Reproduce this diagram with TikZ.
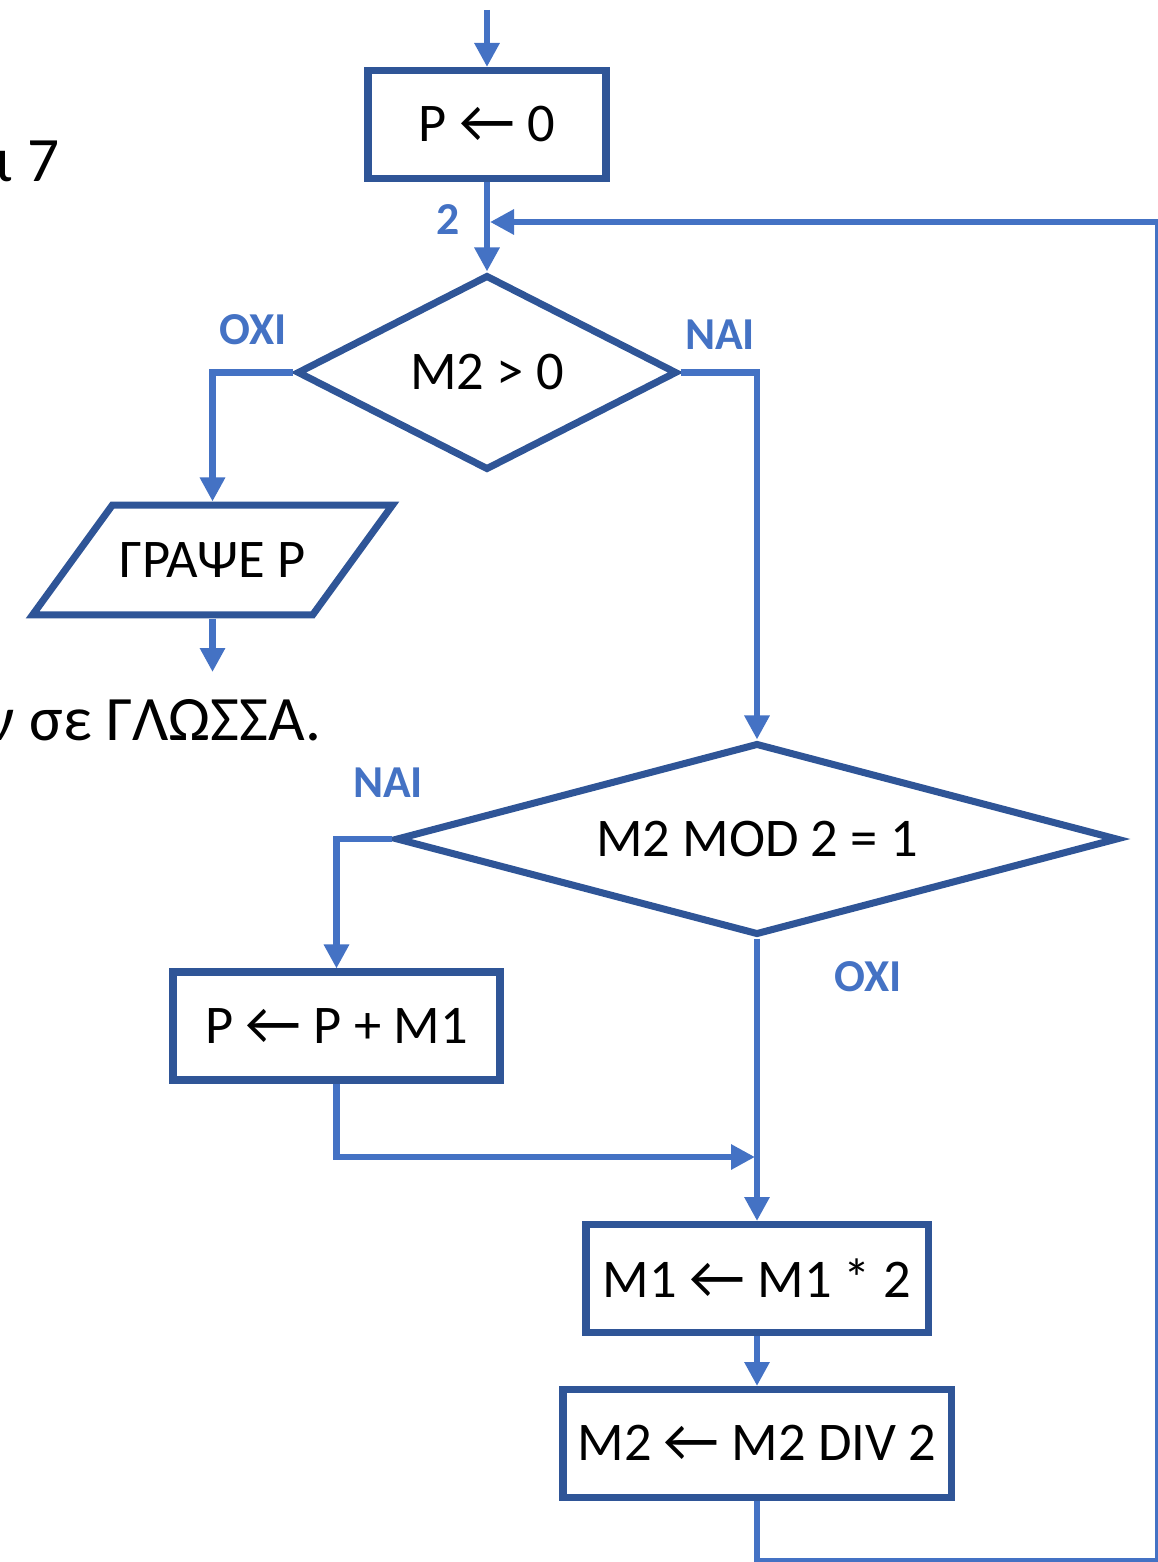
\documentclass[tikz,border=0pt]{standalone}
\usepackage{fontspec}
\setmainfont{Carlito}
\usetikzlibrary{arrows.meta,positioning,shapes.geometric,calc}
\definecolor{flowDarkBlue}{RGB}{47,85,151}
\definecolor{flowBlue}{RGB}{68,114,196}
\newcommand{\assign}{ {\fontsize{17.5}{21}\selectfont\raisebox{-0.3pt}{←}} }

\begin{document}
\begin{tikzpicture}[
  box/.style={draw=flowDarkBlue, line width=2pt, minimum height=1.08cm,
              inner sep=0pt, font=\fontsize{15.5}{19}\selectfont},
  decision/.style={diamond, draw=flowDarkBlue, line width=2pt, inner sep=0pt,
              aspect=3, font=\fontsize{15.5}{19}\selectfont},
  io/.style={trapezium, trapezium left angle=54, trapezium right angle=126,
             draw=flowDarkBlue, line width=2pt, inner xsep=0.07cm, inner ysep=0.375cm,
             font=\fontsize{15.5}{19}\selectfont},
  flow/.style={-{Triangle[length=2.4mm,width=2.4mm]}, draw=flowBlue, line width=1.9pt},
  answer/.style={text=flowBlue, inner sep=0pt, font=\fontsize{13}{15}\selectfont\bfseries},
  note/.style={inner sep=0pt, font=\fontsize{18}{21}\selectfont}
]
\useasboundingbox (0,0) rectangle (11.58,-15.62);

\node[box, minimum width=2.38cm] (zero) at (4.87,-1.245) {P\assign 0};
\node[decision, minimum width=3.80cm, minimum height=1.95cm] (test) at (4.87,-3.725) {M2 > 0};
\node[io] (write) at (2.125,-5.60) {ΓΡΑΨΕ P};
\node[decision, minimum width=7.22cm, minimum height=1.92cm] (parity) at (7.57,-8.39) {M2 MOD 2 = 1};
\node[box, minimum width=3.27cm] (add) at (3.365,-10.26) {P\assign P + M1};
\node[box, minimum width=3.42cm] (double) at (7.57,-12.785) {M1\assign M1 * 2};
\node[box, minimum width=3.88cm] (halve) at (7.57,-14.435) {M2\assign M2 DIV 2};

\coordinate (entry) at (4.87,-0.10);
\coordinate (back) at (4.90,-2.22);
\coordinate (exit) at (write.south |- 0,-6.72);
\coordinate (merge) at (7.55,-11.57);
\coordinate (loopcorner) at (11.585,-15.615);

\draw[flow] (entry) -- (zero);
\draw[flow] (zero) -- (test);
\draw[flow] (test.west) -| (write.north);
\draw[flow] (write.south) -- (exit);
\draw[flow] (test.east) -| (parity.north);
\draw[flow] (parity.west) -| (add.north);
\draw[flow] (add.south) |- (merge);
\draw[flow] (parity.south) -- (double.north);
\draw[flow] (double) -- (halve);
\draw[flow] (halve.south) |- (loopcorner) |- (back);

\node[answer] (loopLabel) at (4.48,-2.20) {2};
\node[answer] (testNo) at (2.53,-3.30) {ΟΧΙ};
\node[answer] (testYes) at (7.20,-3.35) {ΝΑΙ};
\node[answer] (parityYes) at (3.88,-7.83) {ΝΑΙ};
\node[answer] (parityNo) at (8.68,-9.77) {ΟΧΙ};

\node[note, anchor=base west] (noteTop) at (-0.05,-1.82) {ι 7};
\node[note, anchor=base west] (noteMid) at (-0.14,-7.40) {ν σε ΓΛΩΣΣΑ.};
\end{tikzpicture}
\end{document}
